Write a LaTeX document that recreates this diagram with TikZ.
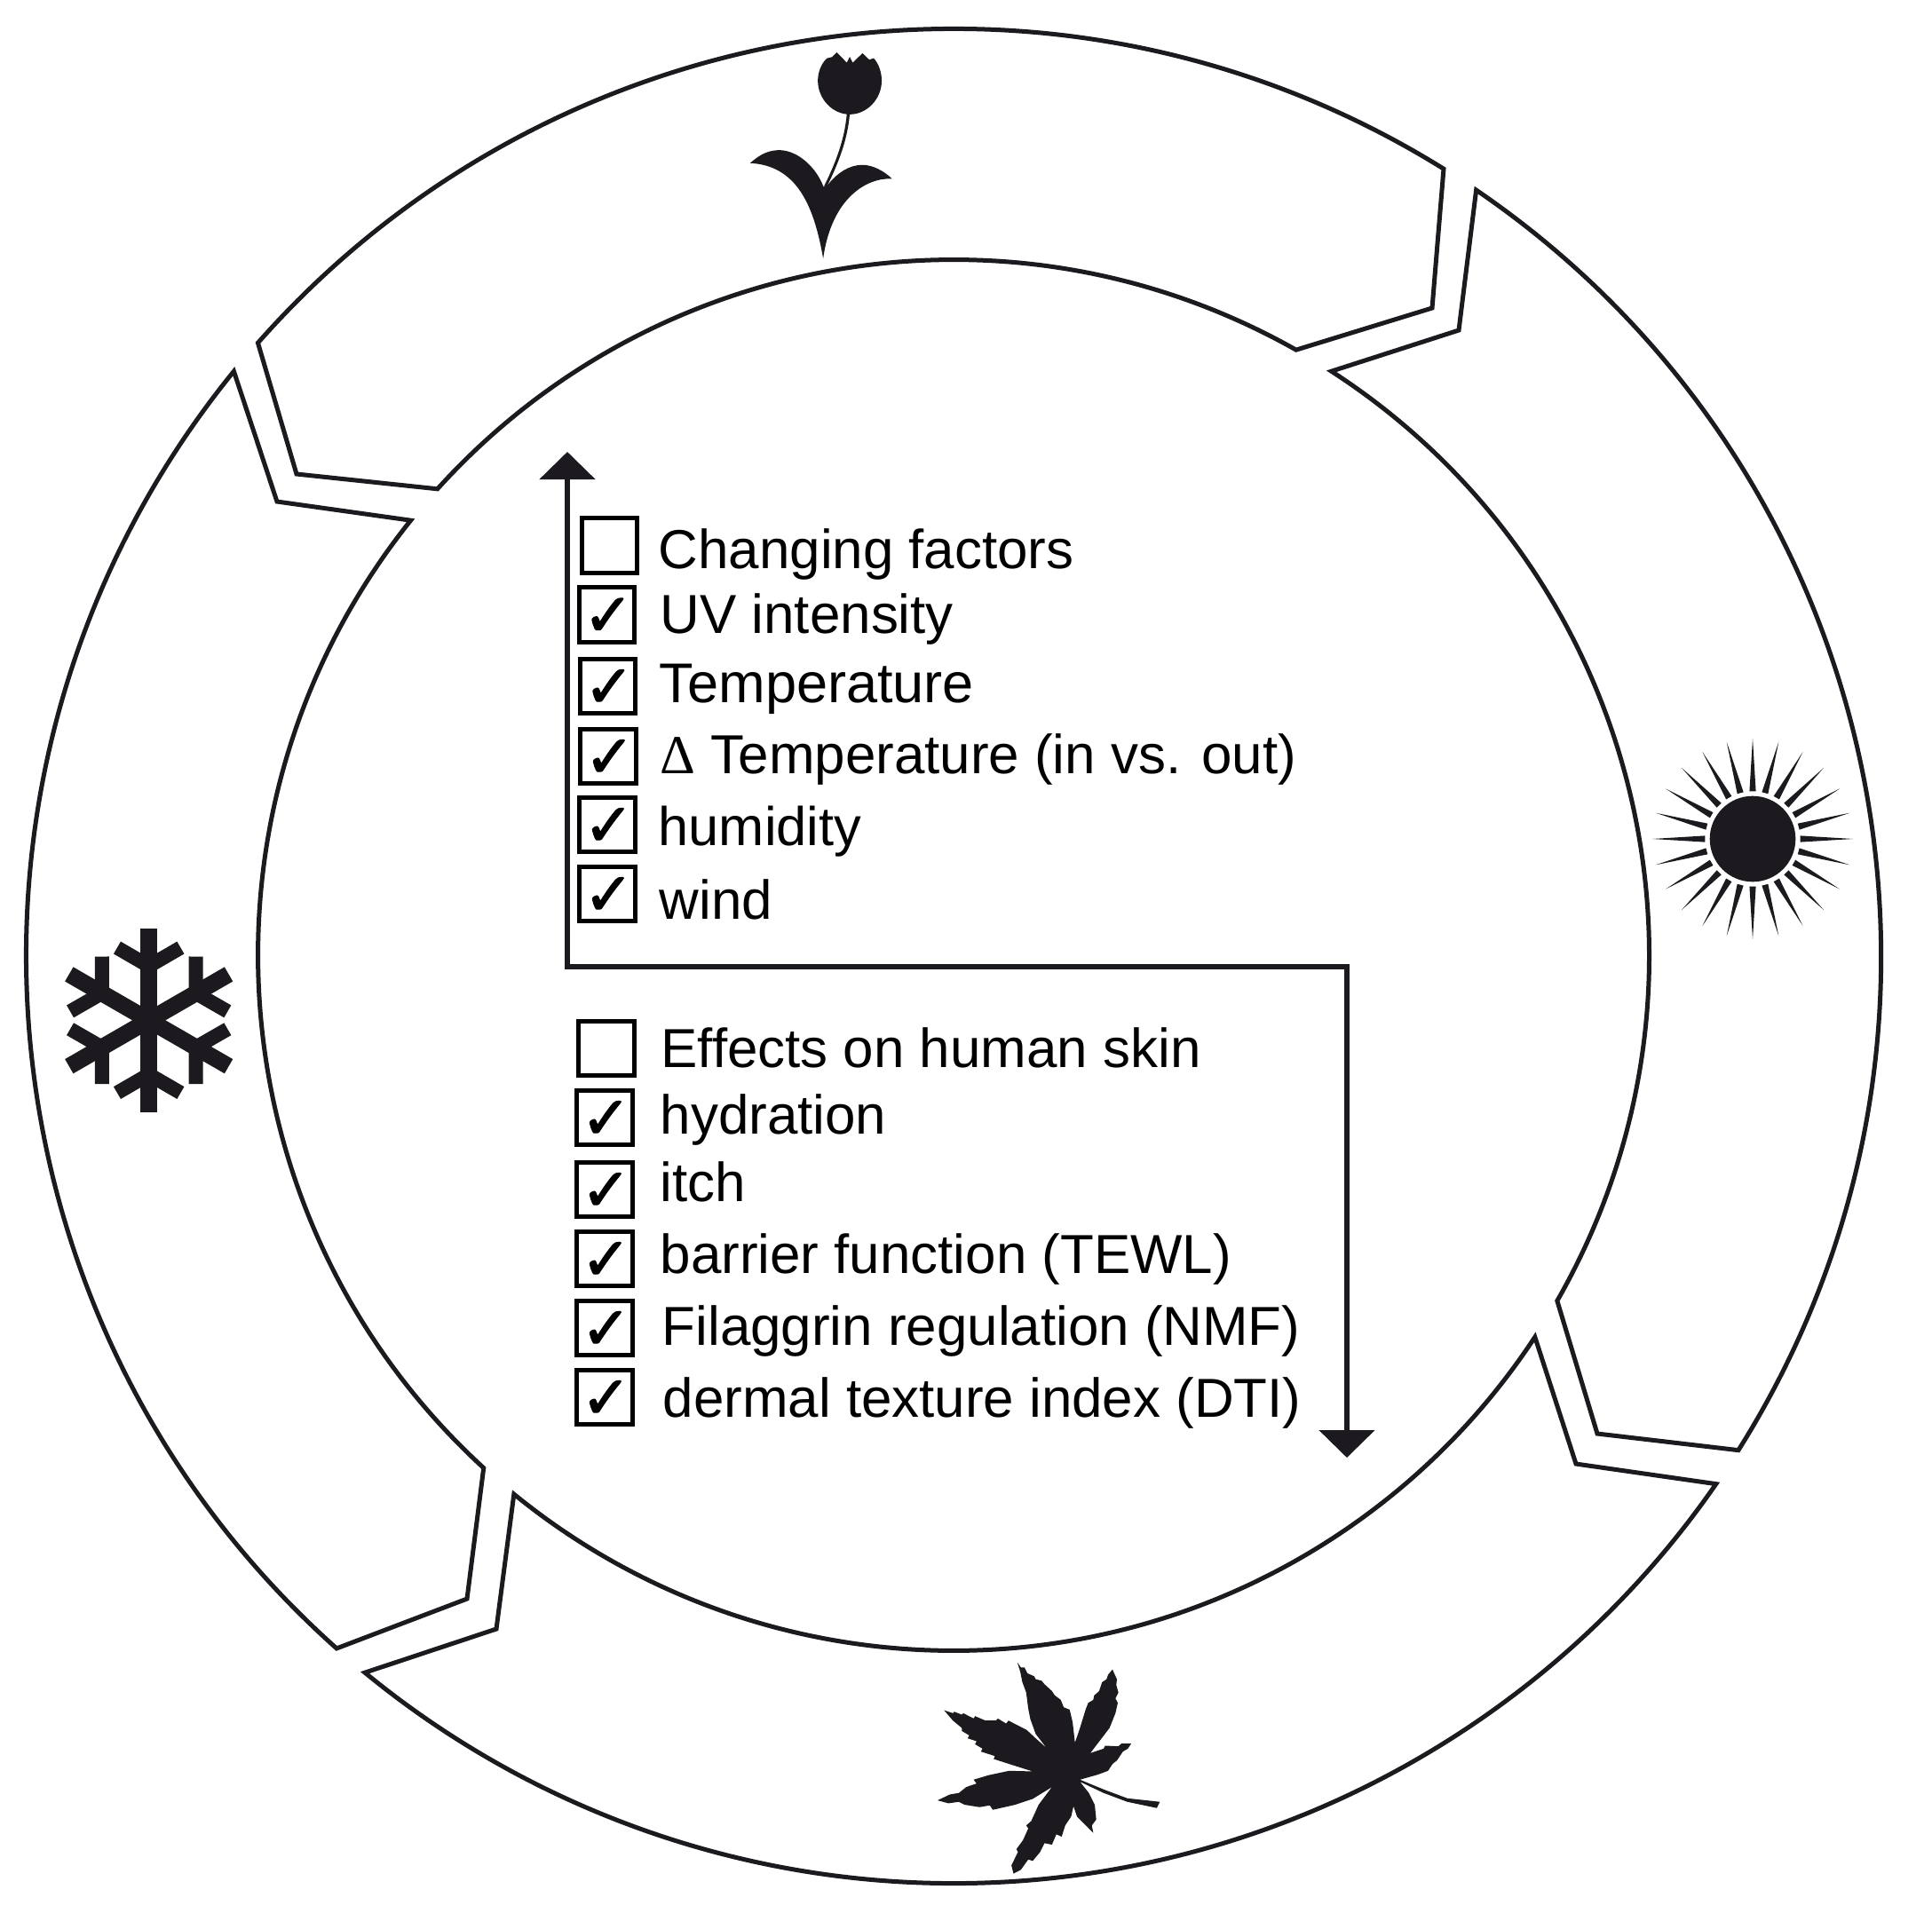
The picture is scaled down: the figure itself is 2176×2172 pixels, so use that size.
\documentclass[tikz,border=0pt]{standalone}
\usepackage{fontspec}
\usetikzlibrary{arrows.meta}
\setmainfont{Liberation Sans}
\newfontfamily\deltafont{Liberation Serif}
\newfontfamily\checkfont[FakeBold=2]{DejaVu Sans}
\definecolor{ink}{HTML}{1C1A1E}
\def\Ro{10.44cm}
\def\Ri{7.83cm}
\newcommand{\tick}{\hspace*{0.03cm}\makebox[0pt]{\smash{\raisebox{-0.235cm}{\checkfont\fontsize{19pt}{19pt}\selectfont ✓}}}}
\tikzset{
  x=0.01cm,y=-0.01cm,
  seg/.style={draw=ink,line width=0.05cm,line join=miter,fill=white},
  cbox/.style={draw=black,line width=0.05cm,rectangle,minimum width=0.62cm,minimum height=0.61cm,inner sep=0pt,anchor=center},
  lab/.style={anchor=base west,inner sep=0pt,font=\fontsize{17.6pt}{20pt}\selectfont,text=black},
  zoomed/.style={x=0.0033333cm,y=-0.0033333cm},
  icon/.style={fill=ink,draw=none},
  flow/.style={draw=ink,line width=0.055cm,{Triangle[length=0.31cm,width=0.62cm]}-{Triangle[length=0.31cm,width=0.62cm]}},
}
\begin{document}
\begin{tikzpicture}
\useasboundingbox (0,0) rectangle (2176,2172);
\coordinate (c) at (1074,1077);
\coordinate (ci) at (1074,1076);
% spring segment
\draw[seg] ([shift={(138.6:\Ro)}]c) arc[start angle=138.6,end angle=58.1,radius=\Ro]
  -- (1613,347) -- ([shift={(60.5:\Ri)}]ci) arc[start angle=60.5,end angle=137.9,radius=\Ri]
  -- (334,534) -- cycle;
% summer segment
\draw[seg] ([shift={(55.7:\Ro)}]c) arc[start angle=55.7,end angle=-32.2,radius=\Ro]
  -- (1799,1615) -- ([shift={(-29.8:\Ri)}]ci) arc[start angle=-29.8,end angle=57.1,radius=\Ri]
  -- (1643,372) -- cycle;
% autumn segment
\draw[seg] ([shift={(-34.7:\Ro)}]c) arc[start angle=-34.7,end angle=-129.4,radius=\Ro]
  -- (559,1835) -- ([shift={(-129.2:\Ri)}]ci) arc[start angle=-129.2,end angle=-33.3,radius=\Ri]
  -- (1775,1649) -- cycle;
% winter segment
\draw[seg] ([shift={(228.3:\Ro)}]c) arc[start angle=228.3,end angle=140.9,radius=\Ro]
  -- (312,565) -- ([shift={(141.3:\Ri)}]ci) arc[start angle=141.3,end angle=227.5,radius=\Ri]
  -- (526,1801) -- cycle;
% flow arrow
\coordinate (up) at (639,509);
\coordinate (turnA) at (639,1089);
\coordinate (turnB) at (1517,1089);
\coordinate (down) at (1517,1642);
\draw[flow] (up) -- (turnA) -- (turnB) -- (down);
% check boxes: upper list
\node[cbox] (b1) at (686.5,614.5) {};
\node[cbox] (b2) at (683.5,692.5) {\tick};
\node[cbox] (b3) at (684.5,773) {\tick};
\node[cbox] (b4) at (685,852) {\tick};
\node[cbox] (b5) at (684,929) {\tick};
\node[cbox] (b6) at (684,1007) {\tick};
% check boxes: lower list
\node[cbox] (d1) at (683,1181) {};
\node[cbox] (d2) at (681,1259) {\tick};
\node[cbox] (d3) at (681,1340) {\tick};
\node[cbox] (d4) at (681,1418) {\tick};
\node[cbox] (d5) at (681,1496) {\tick};
\node[cbox] (d6) at (681,1574) {\tick};
% labels
\node[lab] (t1) at (741,640) {Changing factors};
\node[lab] (t2) at (743,713) {UV intensity};
\node[lab,font=\fontsize{17.95pt}{20pt}\selectfont] (t3) at (742,791) {Temperature};
\node[lab] (t4) at (743,871) {{\deltafont Δ} Temperature (in vs. out)};
\node[lab,font=\fontsize{17.45pt}{20pt}\selectfont] (t5) at (741,952) {humidity};
\node[lab] (t6) at (742,1035) {wind};
\node[lab] (u1) at (744,1202) {Effects on human skin};
\node[lab] (u2) at (743,1277) {hydration};
\node[lab] (u3) at (743,1353) {itch};
\node[lab] (u4) at (743,1434) {barrier function (TEWL)};
\node[lab] (u5) at (745,1515) {Filaggrin regulation (NMF)};
\node[lab] (u6) at (746,1596) {dermal texture index (DTI)};
% tulip
\begin{scope}[shift={(800,30)},zoomed]
\fill[icon] (395,107) -- (412,103) -- (428,87) -- (462,122) -- (472,102) -- (482,122) -- (515,90) -- (538,112) -- (553,107)
  .. controls (570,125) and (580,155) .. (580,183) .. controls (580,245) and (530,297) .. (472,297)
  .. controls (414,297) and (364,245) .. (364,183) .. controls (364,155) and (375,125) .. (395,107) -- cycle;
\fill[icon] (462,295) .. controls (455,380) and (425,460) .. (385,540) -- (395,540) .. controls (435,460) and (465,380) .. (472,295) -- cycle;
\fill[icon] (135,462) .. controls (170,430) and (200,418) .. (235,418) .. controls (300,420) and (360,480) .. (383,542)
  -- (398,535) .. controls (430,495) and (470,468) .. (515,468) .. controls (550,468) and (590,490) .. (615,515)
  .. controls (530,510) and (410,580) .. (382,785) .. controls (350,600) and (290,470) .. (135,462) -- cycle;
\end{scope}
% sun
\coordinate (sun) at (1974,945);
\fill[icon] (sun) circle[radius=0.483cm];
\foreach \a in {0,15,...,345}{
  \begin{scope}[shift={(sun)},rotate=\a]
  \fill[icon] (0.535cm,-0.036cm) -- (1.13cm,0cm) -- (0.535cm,0.036cm) -- cycle;
  \end{scope}
}
% snowflake
\coordinate (flake) at (167.7,1149.3);
\foreach \a in {30,90,...,330}{
  \begin{scope}[shift={(flake)},rotate=\a]
  \draw[ink,line width=0.187cm] (0cm,0cm) -- (1.037cm,0cm);
  \draw[ink,line width=0.16cm] (0.61cm,0cm) -- (0.817cm,0.357cm);
  \draw[ink,line width=0.16cm] (0.61cm,0cm) -- (0.817cm,-0.357cm);
  \end{scope}
}
% leaf
\begin{scope}[shift={(1030,1850)},zoomed]
\fill[icon] (447,358) -- (410,310) -- (392,260) -- (385,225) -- (378,170) -- (365,135) -- (358,100) -- (348,68)
  -- (360,85) -- (372,85) -- (382,105) -- (405,115) -- (410,125) -- (430,130) -- (440,142) -- (465,165) -- (475,180) -- (495,195) -- (505,220) -- (525,228) -- (535,270) -- (543,340)
  -- (560,290) -- (580,225) -- (588,205) -- (605,195) -- (608,180) -- (625,165) -- (635,135) -- (650,125) -- (655,110) -- (670,92)
  -- (678,110) -- (685,125) -- (683,145) -- (690,170) -- (680,190) -- (688,205) -- (680,240) -- (660,290) -- (595,375)
  -- (640,360) -- (645,350) -- (690,352) -- (700,343) -- (733,343) -- (722,360) -- (705,370) -- (695,385) -- (685,400) -- (670,412) -- (655,435) -- (620,448) -- (560,465)
  -- (640,498) -- (720,528) -- (830,540) -- (820,561) -- (720,540) -- (640,510) -- (560,472)
  -- (590,510) -- (610,550) -- (615,600) -- (600,620) -- (605,645) -- (575,615) -- (550,590) -- (538,555)
  -- (530,590) -- (510,620) -- (498,658) -- (480,650) -- (465,685) -- (440,680) -- (425,710) -- (400,740) -- (385,735) -- (360,770) -- (335,783)
  -- (328,755) -- (350,710) -- (345,700) -- (367,670) -- (385,630) -- (378,620) -- (395,605) -- (420,550) -- (465,490)
  -- (400,530) -- (340,550) -- (265,567) -- (255,552) -- (220,558) -- (170,550) -- (150,540) -- (115,545) -- (78,535)
  -- (120,515) -- (150,510) -- (175,490) -- (210,478) -- (200,465) -- (250,450) -- (320,435) -- (400,437)
  -- (330,415) -- (268,395) -- (272,385) -- (225,370) -- (230,360) -- (205,345) -- (210,335) -- (180,325) -- (185,315) -- (160,300) -- (160,290) -- (130,265) -- (100,230)
  -- (130,240) -- (135,235) -- (160,245) -- (165,240) -- (200,258) -- (205,250) -- (240,265) -- (275,265) -- (282,258) -- (310,275) -- (318,265) -- (380,297) -- (410,325) -- cycle;
\end{scope}
\end{tikzpicture}
\end{document}
